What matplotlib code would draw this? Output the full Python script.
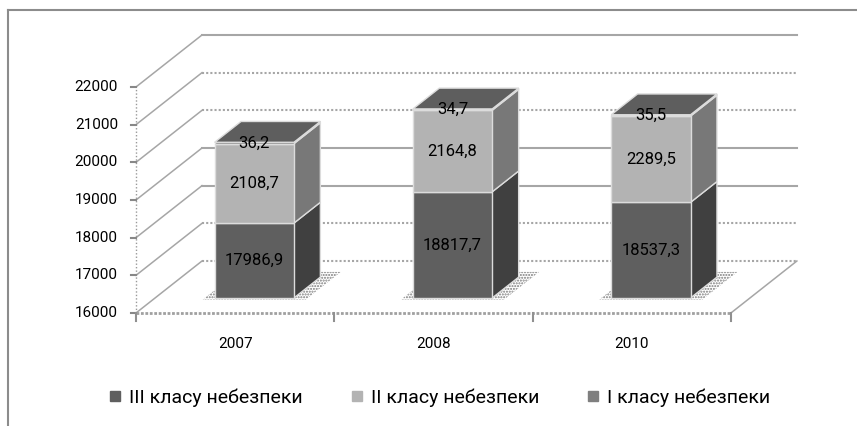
import matplotlib.pyplot as plt
from matplotlib.patches import Polygon
from matplotlib.lines import Line2D
import numpy as np

plt.rcParams["font.family"] = ["Roboto", "DejaVu Sans"]

years = ["2007", "2008", "2010"]
class3 = [17986.9, 18817.7, 18537.3]
class2 = [2108.7, 2164.8, 2289.5]
class1 = [36.2, 34.7, 35.5]
series_names = ["III класу небезпеки", "II класу небезпеки", "I класу небезпеки"]
value_labels = [["17986,9", "18817,7", "18537,3"],
                ["2108,7", "2164,8", "2289,5"],
                ["36,2", "34,7", "35,5"]]
y_ticks = [16000, 17000, 18000, 19000, 20000, 21000, 22000]

front_col = ["#5f5f5f", "#b3b3b3", "#7f7f7f"]
side_col = ["#404040", "#787878", "#555555"]
top_col = "#5e5e5e"
edge_col = "#dcdcdc"
grid_col = "#a6a6a6"

# fake 3d: depth offset of the walls (category units / value units)
W, H = 8.57, 4.26
PX_CAT = 198.3
PX_VAL = 37.67 / 1000
DX = 66 / PX_CAT
DY = 52 / PX_VAL
Z0, Z1 = 0.29, 0.69
HALF = 0.2
VMIN, VMAX = y_ticks[0], y_ticks[-1]


def proj(x, v, z):
    return x + z * DX, v + z * DY


fig = plt.figure(figsize=(W, H), dpi=100)
ax = fig.add_axes([0, 0, 1, 1])
ax.set_xlim(-136 / PX_CAT, (W * 100 - 136) / PX_CAT)
ax.set_ylim(VMIN - 113 / PX_VAL, VMIN + 313 / PX_VAL)
ax.axis("off")

n = len(years)

# back wall gridlines + left wall diagonals
dotted = {16000, 17000, 20000, 21000}
for v in y_ticks:
    ls = (0, (1, 1)) if v in dotted else "-"
    xa, ya = proj(0, v, 1)
    xb, yb = proj(n, v, 1)
    ax.plot([xa, xb], [ya, yb], color=grid_col, lw=1.5, ls=ls, zorder=1)
    xf, yf = proj(0, v, 0)
    ax.plot([xf, xa], [yf, ya], color=grid_col, lw=1.1, zorder=1)

# floor right edge
xa, ya = proj(n, VMIN, 0)
xb, yb = proj(n, VMIN, 1)
ax.plot([xa, xb], [ya, yb], color=grid_col, lw=1.1, zorder=1)

# front value axis
ax.plot([0, 0], [VMIN, VMAX], color="#999999", lw=1, ls=(0, (1, 1.5)), zorder=2)
for v in y_ticks:
    ax.plot([-5 / PX_CAT, 0], [v, v], color="#888888", lw=1.5, zorder=2)
    ax.annotate(f"{v}", (0, v), xytext=(-13, 0), textcoords="offset points",
                ha="right", va="center", fontsize=11, color="black")

# floor front edge + category ticks
ax.plot([0, n], [VMIN, VMIN], color="#a0a0a0", lw=2, ls=(0, (1, 0.6)), zorder=2)
for i in range(n + 1):
    ax.plot([i, i], [VMIN, VMIN - 8 / PX_VAL], color="#909090", lw=1.5, zorder=2)
for i, yr in enumerate(years):
    ax.annotate(yr, (i + 0.5, VMIN), xytext=(0, -22), textcoords="offset points",
                ha="center", va="center", fontsize=11)

# bars
plt.rcParams["hatch.color"] = "#7a7a7a"
stacks = [class3, class2, class1]
for i in range(n):
    c = i + 0.5
    xl, xr = c - HALF, c + HALF
    # soft shadow on the floor
    sh = [proj(xl - 0.05, VMIN, Z0 - 0.03), proj(xr + 0.07, VMIN, Z0 - 0.03),
          proj(xr + 0.07, VMIN, Z1 + 0.1), proj(xl - 0.05, VMIN, Z1 + 0.1)]
    ax.add_patch(Polygon(sh, closed=True, facecolor="none", edgecolor="#7a7a7a",
                         hatch="......", lw=0, zorder=3))
    bottom = VMIN
    for k, vals in enumerate(stacks):
        v0 = bottom
        v1 = bottom + vals[i] if k > 0 else vals[i]
        side = [proj(xr, v0, Z0), proj(xr, v0, Z1), proj(xr, v1, Z1), proj(xr, v1, Z0)]
        ax.add_patch(Polygon(side, closed=True, facecolor=side_col[k],
                             edgecolor=edge_col, lw=1, zorder=4))
        front = [proj(xl, v0, Z0), proj(xr, v0, Z0), proj(xr, v1, Z0), proj(xl, v1, Z0)]
        ax.add_patch(Polygon(front, closed=True, facecolor=front_col[k],
                             edgecolor=edge_col, lw=1, zorder=5))
        tx, ty = proj(c, (v0 + v1) / 2, Z0)
        ax.text(tx, ty, value_labels[k][i], ha="center", va="center",
                fontsize=12, color="black", zorder=7)
        bottom = v1
    top = [proj(xl, bottom, Z0), proj(xr, bottom, Z0), proj(xr, bottom, Z1), proj(xl, bottom, Z1)]
    ax.add_patch(Polygon(top, closed=True, facecolor=top_col,
                         edgecolor=edge_col, lw=1, zorder=6))

# legend
handles = [Line2D([], [], ls="none", marker="s", markersize=7.2,
                  markerfacecolor=front_col[k], markeredgecolor=front_col[k])
           for k in range(3)]
fig.legend(handles, series_names, loc="center", bbox_to_anchor=(0.512, 0.066),
           ncol=3, frameon=False, fontsize=14, handlelength=0.8,
           handletextpad=0.3, columnspacing=2.4)

# chart border (top + left only visible)
fig.add_artist(Line2D([8 / (W * 100), 1], [1 - 9.5 / (H * 100)] * 2,
                      color="#8c8c8c", lw=1.5, transform=fig.transFigure))
fig.add_artist(Line2D([8 / (W * 100)] * 2, [0, 1 - 9.5 / (H * 100)],
                      color="#8c8c8c", lw=1.5, transform=fig.transFigure))

fig.savefig("out.png", dpi=100)
